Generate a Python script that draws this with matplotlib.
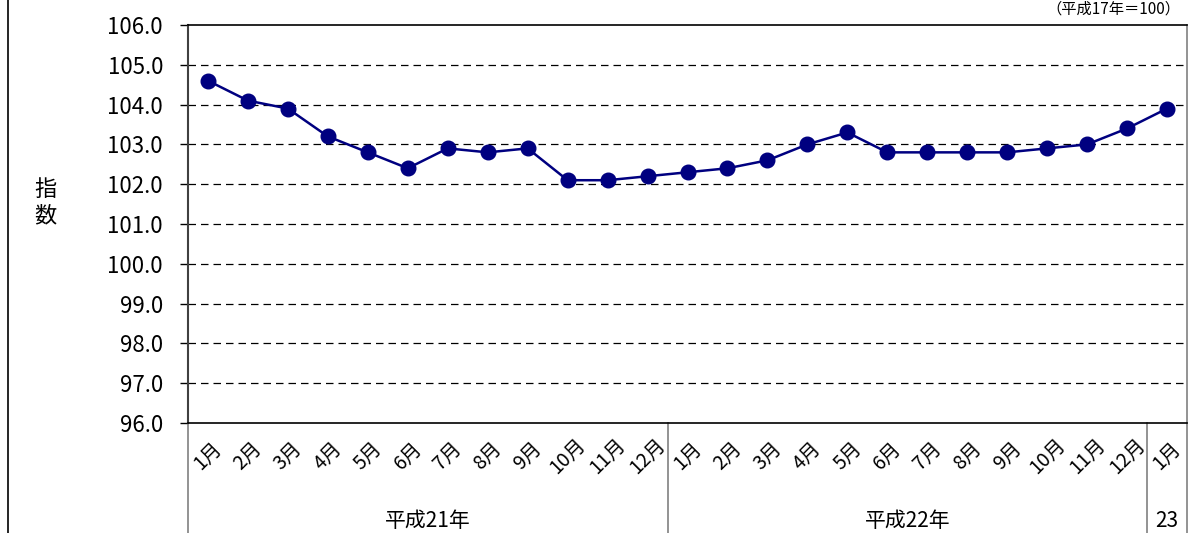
import numpy as np
import matplotlib
matplotlib.use("Agg")
import matplotlib.pyplot as plt
from matplotlib.lines import Line2D

plt.rcParams['font.family'] = ['Noto Sans CJK JP', 'DejaVu Sans']

# データ
months = ["1月", "2月", "3月", "4月", "5月", "6月", "7月", "8月", "9月", "10月", "11月", "12月",
          "1月", "2月", "3月", "4月", "5月", "6月", "7月", "8月", "9月", "10月", "11月", "12月",
          "1月"]
values = [104.6, 104.1, 103.9, 103.2, 102.8, 102.4, 102.9, 102.8, 102.9, 102.1, 102.1, 102.2,
          102.3, 102.4, 102.6, 103.0, 103.3, 102.8, 102.8, 102.8, 102.8, 102.9, 103.0, 103.4,
          103.9]
years = ["平成21年", "平成22年", "23"]
year_counts = [12, 12, 1]
yticks = np.arange(96, 106.1, 1.0)

W, H = 1188, 533
fig = plt.figure(figsize=(W / 100, H / 100), dpi=100)
ax = fig.add_axes([188 / W, (H - 423) / H, 999 / W, 398 / H])

x = np.arange(len(values))
ax.plot(x, values, color="#000080", lw=1.8, marker="o", ms=10.5,
        markerfacecolor="#000080", markeredgecolor="#000080", zorder=3)

ax.set_xlim(-0.5, len(values) - 0.5)
ax.set_ylim(96, 106)
ax.set_yticks(yticks)
ax.set_yticklabels(["%.1f" % v for v in yticks], fontsize=16)
ax.tick_params(axis="y", direction="out", length=6, width=1, pad=12)
ax.set_xticks([])
for v in yticks[1:-1]:
    ax.axhline(v, color="black", lw=0.9, ls=(0, (6, 4)), zorder=1)

for s in ["top", "bottom"]:
    ax.spines[s].set_color("black")
    ax.spines[s].set_linewidth(1.2)
ax.spines["left"].set_color("#404040")
ax.spines["left"].set_linewidth(1.5)
ax.spines["right"].set_color("#808080")
ax.spines["right"].set_linewidth(1.2)

# 月ラベル
trans = ax.get_xaxis_transform()
for i, m in enumerate(months):
    ax.text(i, -0.082, m, transform=trans, rotation=45, ha="center", va="center",
            rotation_mode="anchor", fontsize=14)

# 年ラベルと区切り線
ybot = -110 / 398
start = 0
for name, n in zip(years, year_counts):
    ax.text(start - 0.5 + n / 2, -0.245, name, transform=trans, ha="center",
            va="center", fontsize=15)
    ax.add_line(Line2D([start - 0.5, start - 0.5], [0, ybot], transform=trans,
                       color="#808080", lw=1.2, clip_on=False))
    start += n
ax.add_line(Line2D([start - 0.5, start - 0.5], [0, ybot], transform=trans,
                   color="#808080", lw=1.2, clip_on=False))

# 軸ラベル
fig.text(45 / W, 1 - 203 / H, "指\n数", ha="center", va="center", fontsize=16,
         linespacing=1.2)
fig.text(1180 / W, 1 - 1 / H, "（平成17年＝100）", ha="right", va="top", fontsize=11)

# 左の枠線
fig.add_artist(Line2D([8 / W, 8 / W], [0, 1], transform=fig.transFigure,
                      color="black", lw=1.2))

fig.savefig("out.png", dpi=100)
